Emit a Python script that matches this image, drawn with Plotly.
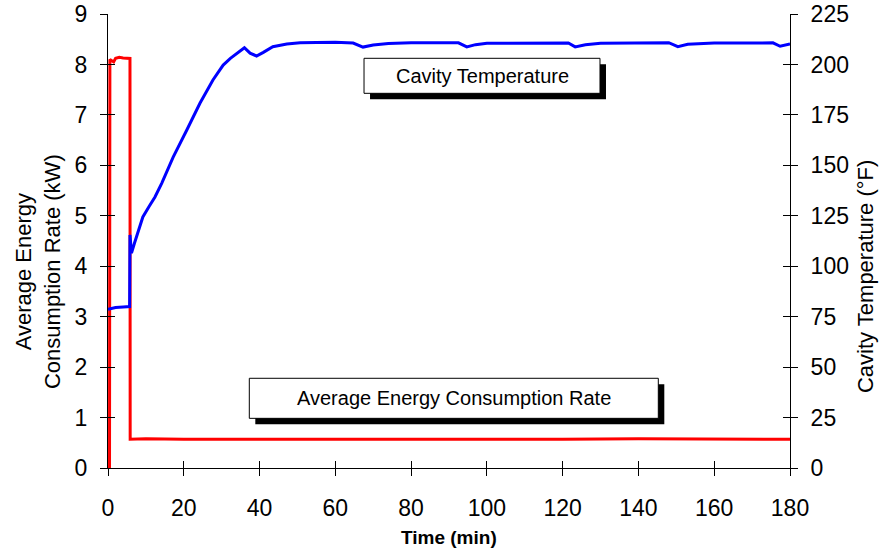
import plotly.graph_objects as go

# ---- data ----
time_kw = [0, 0.4, 0.5, 1.0, 1.5, 2.0, 3.0, 4.0, 5.0, 5.8, 5.85, 10, 20, 40, 60, 80, 100, 120, 140, 160, 180]
energy_kw = [0, 0, 8.10, 8.07, 8.05, 8.12, 8.14, 8.13, 8.13, 8.12, 0.57, 0.58, 0.57, 0.57, 0.57, 0.56, 0.57, 0.57, 0.58, 0.57, 0.57]

time_temp = [0, 2, 4, 5.7, 5.8, 6.2, 7.0, 7.9, 9.2, 10.8, 12.4, 14.2, 17.2, 20.8, 24.3, 27.7, 30.4, 32.3, 34.0,
             36.0, 37.5, 39.2, 41.0, 43.5, 47.2, 50.7, 55, 60, 64.7, 67.3, 70, 74, 80, 90, 92.5,
             94.7, 97, 100, 110, 120, 121.5, 123.3, 126, 130, 140, 148, 150.4, 153, 160, 170,
             175.5, 177.4, 180]
cavity_temp = [78.6, 79.5, 79.8, 80.0, 115.5, 106.5, 111.5, 116.5, 124.4, 129.5, 134.3, 141.2, 154.1, 167.5, 180.9,
               192.3, 199.7, 203.0, 205.6, 208.3, 205.6, 204.2, 206.0, 208.8, 210.1, 210.8, 210.9, 211.0,
               210.6, 208.6, 209.6, 210.4, 210.7, 210.8, 210.7, 208.7, 209.8, 210.5, 210.7, 210.8,
               210.6, 208.7, 209.8, 210.5, 210.8, 210.8, 208.8, 210.0, 210.6, 210.8, 210.7, 209.0, 210.1]

x_ticks = [0, 20, 40, 60, 80, 100, 120, 140, 160, 180]
kw_ticks = [0, 1, 2, 3, 4, 5, 6, 7, 8, 9]
f_ticks = [0, 25, 50, 75, 100, 125, 150, 175, 200, 225]

FONT = "Liberation Sans, Arial, sans-serif"

fig = go.Figure()
fig.add_trace(go.Scatter(x=time_temp, y=cavity_temp, mode="lines", yaxis="y2",
                         line=dict(color="#0000FF", width=3), showlegend=False))
fig.add_trace(go.Scatter(x=time_kw, y=energy_kw, mode="lines",
                         line=dict(color="#FF0000", width=3), showlegend=False))
# invisible traces for overlay axes carrying the inner half of the crossing ticks
fig.add_trace(go.Scatter(x=[None], y=[None], xaxis="x3", yaxis="y3", showlegend=False, hoverinfo="skip"))
fig.add_trace(go.Scatter(x=[None], y=[None], xaxis="x", yaxis="y4", showlegend=False, hoverinfo="skip"))

axis_common = dict(showgrid=False, zeroline=False, linecolor="black", linewidth=1,
                   tickcolor="black", tickwidth=1, ticklen=7, automargin=False,
                   tickfont=dict(family=FONT, size=23, color="black"))
inner_common = dict(showticklabels=False, showline=False, showgrid=False, zeroline=False,
                    tickcolor="black", tickwidth=1, ticklen=7, automargin=False, ticks="inside")

fig.update_layout(
    width=891, height=555,
    margin=dict(l=108, r=101, t=14, b=87),
    paper_bgcolor="white", plot_bgcolor="white",
    font=dict(family=FONT, color="black"),
    xaxis=dict(range=[0, 180], tickvals=x_ticks, ticks="outside", showline=True,
               ticklabelstandoff=12, **axis_common),
    yaxis=dict(range=[0, 9], tickvals=kw_ticks, ticks="outside", showline=True,
               ticklabelstandoff=8, **axis_common),
    yaxis2=dict(range=[0, 225], tickvals=f_ticks, ticks="outside", showline=True,
                overlaying="y", side="right", anchor="x", ticklabelstandoff=8, **axis_common),
    xaxis3=dict(range=[0, 180], tickvals=x_ticks, overlaying="x", anchor="y3", side="bottom", **inner_common),
    yaxis3=dict(range=[0, 9], tickvals=kw_ticks, overlaying="y", anchor="x3", side="left", **inner_common),
    yaxis4=dict(range=[0, 225], tickvals=f_ticks, overlaying="y", anchor="x", side="right", **inner_common),
)

# label boxes with drop shadow (paper coordinates)
def box(x0, x1, y0, y1, text, size):
    dx, dy = 6 / 682, 6 / 454
    fig.add_shape(type="rect", xref="paper", yref="paper", x0=x0 + dx, x1=x1 + dx, y0=y0 - dy, y1=y1 - dy,
                  fillcolor="black", line=dict(width=0))
    fig.add_shape(type="rect", xref="paper", yref="paper", x0=x0, x1=x1, y0=y0, y1=y1,
                  fillcolor="white", line=dict(color="black", width=1))
    fig.add_annotation(xref="paper", yref="paper", x=(x0 + x1) / 2, y=(y0 + y1) / 2, text=text,
                       xanchor="center", yanchor="middle", showarrow=False,
                       font=dict(family=FONT, size=size, color="black"))

box(0.3754, 0.7214, 0.8253, 0.9024, "Cavity Temperature", 20)
box(0.2072, 0.8069, 0.1094, 0.1976, "Average Energy Consumption Rate", 20)

# axis titles
fig.add_annotation(xref="paper", yref="paper", x=0.5, y=-0.154, text="<b>Time (min)</b>",
                   xanchor="center", yanchor="middle", showarrow=False,
                   font=dict(family=FONT, size=19, color="black"))
fig.add_annotation(xref="paper", yref="paper", x=-0.1026, y=0.4317, textangle=-90,
                   xanchor="center", yanchor="middle",
                   text="Average Energy<br>Consumption Rate (kW)", showarrow=False,
                   font=dict(family=FONT, size=22, color="black"))
fig.add_annotation(xref="paper", yref="paper", x=1.11, y=0.4207, textangle=-90,
                   xanchor="center", yanchor="middle",
                   text="Cavity Temperature (°F)", showarrow=False,
                   font=dict(family=FONT, size=22, color="black"))

fig.write_html("out.html")
